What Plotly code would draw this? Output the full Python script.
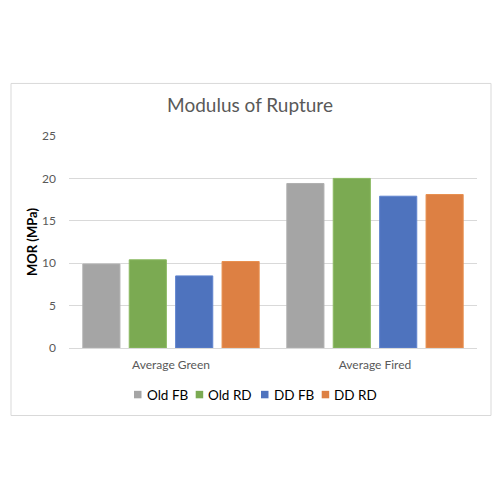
import plotly.graph_objects as go

categories = ["Average Green", "Average Fired"]
series_names = ["Old FB", "Old RD", "DD FB", "DD RD"]
old_fb = [9.9, 19.4]
old_rd = [10.4, 20.0]
dd_fb = [8.5, 17.9]
dd_rd = [10.2, 18.1]
values = [old_fb, old_rd, dd_fb, dd_rd]
colors = ["#A5A5A5", "#7BAA52", "#4E73BE", "#DD8043"]
edge_colors = ["#B0B0B0", "#8BBA62", "#5E83CE", "#E89050"]
y_ticks = [0, 5, 10, 15, 20, 25]

# layout geometry (page pixels; page body adds an 8px offset)
PLOT_L, PLOT_W, PLOT_B, PLOT_H = 69, 408, 348.3, 212.6
legend_square_x = [134, 195.7, 261, 321.7]
legend_y = 395


def px(x):
    return (x - PLOT_L) / PLOT_W


def py(y):
    return (PLOT_B - y) / PLOT_H


fig = go.Figure()
for name, vals, c, ec in zip(series_names, values, colors, edge_colors):
    fig.add_trace(go.Bar(
        x=categories, y=vals, name=name,
        marker=dict(color=c, line=dict(color=ec, width=1)),
    ))

font_family = "Lato, Carlito, 'Open Sans', sans-serif"

fig.update_layout(
    width=500, height=500,
    paper_bgcolor="white", plot_bgcolor="white",
    margin=dict(l=61, r=31, t=128, b=160, pad=0),
    barmode="group", bargap=0.09, bargroupgap=0.2,
    font=dict(family=font_family, size=12, color="#595959"),
    title=dict(text="Modulus of Rupture", x=0.484, xanchor="center",
               y=1 - 97 / 500, yanchor="middle",
               font=dict(size=19, color="#595959", family=font_family)),
    xaxis=dict(showgrid=False, showline=True, linecolor="#D9D9D9", linewidth=1,
               ticks="", tickfont=dict(size=12, color="#595959"), ticklabelstandoff=6),
    yaxis=dict(range=[0, 25], tickvals=y_ticks, showgrid=True, gridcolor="#D9D9D9",
               gridwidth=1, zeroline=False, showline=False, ticks="",
               tickfont=dict(size=12, color="#595959"), ticklabelstandoff=12,
               title=dict(text="<b>MOR (MPa)</b>", font=dict(size=13, color="#000000"),
                          standoff=1)),
    showlegend=False,
)

# chart border
fig.add_shape(type="rect", xref="paper", yref="paper",
              x0=px(11), x1=px(491), y0=py(416), y1=py(83),
              line=dict(color="#D9D9D9", width=1), fillcolor="rgba(0,0,0,0)", layer="below")

# legend (squares + labels)
sq = 7.5
for name, c, sx in zip(series_names, colors, legend_square_x):
    fig.add_shape(type="rect", xref="paper", yref="paper",
                  x0=px(sx), x1=px(sx + sq), y0=py(legend_y + sq / 2), y1=py(legend_y - sq / 2),
                  line=dict(width=0), fillcolor=c)
    fig.add_annotation(text=name, xref="paper", yref="paper",
                       x=px(sx + sq + 3), y=py(legend_y), xanchor="left", yanchor="middle",
                       showarrow=False, font=dict(size=13.5, color="#000000", family=font_family))

fig.write_html("out.html")
